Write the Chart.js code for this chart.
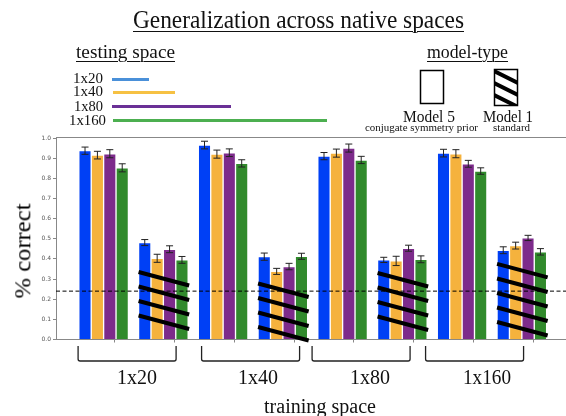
<!DOCTYPE html>
<html>
<head>
<meta charset="utf-8">
<script src="https://cdn.jsdelivr.net/npm/chart.js@4.4.0/dist/chart.umd.min.js"></script>
<style>
body { margin: 0; background: #fff; }
#wrap { position: relative; width: 566px; height: 416px; overflow: hidden; }
.t { position: absolute; white-space: nowrap; line-height: 1; font-family: "Liberation Serif", serif; color: #111; transform-origin: 0 0; }
.u { text-decoration: underline; text-decoration-thickness: 1px; text-underline-offset: 3px; }
.ln { position: absolute; height: 3px; }
</style>
</head>
<body>
<div id="wrap"><canvas id="c" width="566" height="416"></canvas></div>
<script>
// categories
const trainingSpaces = ['1x20', '1x40', '1x80', '1x160'];
const testingSpaces = ['1x20', '1x40', '1x80', '1x160'];
const modelTypes = ['Model 5', 'Model 1'];
const modelNotes = ['conjugate symmetry prior', 'standard'];

// % correct, one value per group: [1x20 M5, 1x20 M1, 1x40 M5, 1x40 M1, 1x80 M5, 1x80 M1, 1x160 M5, 1x160 M1]
const test1x20  = [0.937, 0.481, 0.965, 0.411, 0.910, 0.395, 0.925, 0.443];
const test1x40  = [0.915, 0.403, 0.920, 0.338, 0.925, 0.390, 0.922, 0.466];
const test1x80  = [0.922, 0.448, 0.927, 0.362, 0.950, 0.453, 0.872, 0.504];
const test1x160 = [0.852, 0.395, 0.874, 0.413, 0.891, 0.398, 0.836, 0.435];

// error bar half-heights
const err1x20  = [0.018, 0.015, 0.019, 0.018, 0.018, 0.013, 0.019, 0.017];
const err1x40  = [0.019, 0.020, 0.020, 0.015, 0.020, 0.023, 0.020, 0.017];
const err1x80  = [0.020, 0.017, 0.019, 0.016, 0.020, 0.015, 0.017, 0.013];
const err1x160 = [0.020, 0.017, 0.018, 0.015, 0.018, 0.017, 0.016, 0.016];

const chanceLevel = 0.24;
const yTickLabels = ['0.0', '0.1', '0.2', '0.3', '0.4', '0.5', '0.6', '0.7', '0.8', '0.9', '1.0'];

const barColors = ['#0040f5', '#f5b23d', '#7d2b8b', '#318a2c'];
const legendColors = ['#4a90d9', '#f6c143', '#6a3096', '#4caf50'];

const series = [test1x20, test1x40, test1x80, test1x160];
const errors = [err1x20, err1x40, err1x80, err1x160];
const groups = [];
trainingSpaces.forEach(() => modelTypes.forEach(() => groups.push(groups.length)));

const barW = 12.4;
const tickShift = 0.31;   // matplotlib ticks sit under the first bar of a group

const extras = {
  id: 'extras',
  afterDatasetsDraw(chart) {
    const ctx = chart.ctx;
    const y = chart.scales.y;
    const area = chart.chartArea;
    const metas = chart.data.datasets.map((d, i) => chart.getDatasetMeta(i));
    ctx.save();

    // hatching over "Model 1" groups
    ctx.strokeStyle = '#000';
    ctx.lineWidth = 4;
    groups.forEach(g => {
      if (g % 2 === 0) return;
      const first = metas[0].data[g], last = metas[metas.length - 1].data[g];
      const left = first.x - first.width / 2;
      const right = last.x + last.width / 2 + 1;
      const low = Math.min(...series.map(s => s[g]));
      ctx.beginPath();
      for (let lvl = low - 0.06; lvl > 0.05; lvl -= 0.072) {
        const py = y.getPixelForValue(lvl);
        ctx.moveTo(left, py);
        ctx.lineTo(right, py + 13.5);
      }
      ctx.stroke();
    });

    // chance line
    ctx.lineWidth = 1;
    ctx.setLineDash([4, 2.5]);
    const cy = y.getPixelForValue(chanceLevel);
    ctx.beginPath();
    ctx.moveTo(area.left, cy);
    ctx.lineTo(area.right, cy);
    ctx.stroke();
    ctx.setLineDash([]);

    // error bars
    ctx.strokeStyle = '#222';
    ctx.lineWidth = 1;
    metas.forEach((m, k) => {
      m.data.forEach((bar, g) => {
        const v = series[k][g], e = errors[k][g];
        const y1 = y.getPixelForValue(v - e), y2 = y.getPixelForValue(v + e);
        ctx.beginPath();
        ctx.moveTo(bar.x, y1); ctx.lineTo(bar.x, y2);
        ctx.moveTo(bar.x - 3.5, y1); ctx.lineTo(bar.x + 3.5, y1);
        ctx.moveTo(bar.x - 3.5, y2); ctx.lineTo(bar.x + 3.5, y2);
        ctx.stroke();
      });
    });

    // top spine
    ctx.strokeStyle = '#888';
    ctx.beginPath();
    ctx.moveTo(area.left, area.top - 0.5);
    ctx.lineTo(area.right, area.top - 0.5);
    ctx.stroke();

    // brackets under each training space
    const x = chart.scales.x;
    const shift = [3, 7, -2, -8];
    ctx.strokeStyle = '#222';
    ctx.lineWidth = 1.3;
    trainingSpaces.forEach((t, i) => {
      const l = x.getPixelForValue(2 * i - tickShift) - 7 + shift[i] - 3;
      const r = l + 98;
      ctx.beginPath();
      ctx.moveTo(l, 346);
      ctx.lineTo(l, 359);
      ctx.quadraticCurveTo(l, 361, l + 2, 361);
      ctx.lineTo(r - 2, 361);
      ctx.quadraticCurveTo(r, 361, r, 359);
      ctx.lineTo(r, 346);
      ctx.stroke();
    });
    ctx.restore();
  }
};

new Chart(document.getElementById('c'), {
  type: 'bar',
  data: {
    datasets: testingSpaces.map((name, k) => ({
      label: name,
      data: series[k].map((v, g) => ({ x: g, y: v })),
      backgroundColor: barColors[k],
      borderColor: 'rgba(255,255,255,0.5)',
      borderWidth: 1,
      borderSkipped: 'start',
      barThickness: barW
    }))
  },
  options: {
    responsive: false,
    animation: false,
    layout: { padding: { top: 138, right: 0, left: 0, bottom: 0 } },
    plugins: { legend: { display: false }, tooltip: { enabled: false } },
    scales: {
      x: {
        type: 'linear',
        min: -0.797,
        max: 7.739,
        offset: false,
        afterBuildTicks: s => { s.ticks = [0, 1, 2, 3, 4, 5, 6, 7, 8].map(v => ({ value: v - tickShift })); },
        afterFit: s => { s.height = 76.5; },
        ticks: { display: false },
        grid: { display: true, drawOnChartArea: false, drawTicks: true, tickLength: 3, color: '#888' },
        border: { display: true, color: '#888' }
      },
      y: {
        min: 0,
        max: 1,
        afterFit: s => { s.width = 56; },
        ticks: {
          stepSize: 0.1,
          padding: 2,
          color: '#555',
          font: { size: 6, family: 'DejaVu Sans' },
          callback: (v, i) => yTickLabels[i]
        },
        grid: { display: true, drawOnChartArea: false, drawTicks: true, tickLength: 3, color: '#888' },
        border: { display: true, color: '#888' }
      }
    }
  },
  plugins: [extras]
});

// text and legend overlay
const wrap = document.getElementById('wrap');
function text(s, x, w, base, fs, cls, family) {
  const el = document.createElement('div');
  el.className = 't ' + (cls || '');
  el.textContent = s;
  el.style.fontSize = fs + 'px';
  if (family) el.style.fontFamily = family;
  el.style.left = x + 'px';
  el.style.top = (base - 0.8375 * fs) + 'px';
  wrap.appendChild(el);
  const real = el.getBoundingClientRect().width;
  el.style.transform = 'scaleX(' + (w / real) + ')';
  return el;
}

text('Generalization across native spaces', 133, 331, 28, 25, 'u');
text('testing space', 76, 99, 57.5, 19, 'u');
text('model-type', 427, 81, 57.5, 19, 'u');

const legendText = [[73, 30, 83.3], [73, 30, 96.7], [74, 29, 111.7], [69, 37, 125.7]];
const legendLines = [[112, 149, 79], [113, 175, 92], [112, 231, 106], [113, 327, 120]];
testingSpaces.forEach((name, k) => {
  const [x, w, b] = legendText[k];
  text(name, x, w, b, 15);
  const [l, r, yy] = legendLines[k];
  const ln = document.createElement('div');
  ln.className = 'ln';
  ln.style.left = l + 'px';
  ln.style.width = (r - l) + 'px';
  ln.style.top = (yy - 1.5) + 'px';
  ln.style.background = legendColors[k];
  wrap.appendChild(ln);
});

text(modelTypes[0], 403, 52, 122.5, 17);
text(modelNotes[0], 365, 113, 131.5, 10.5);
text(modelTypes[1], 483, 50, 122.5, 17);
text(modelNotes[1], 493, 37, 131.5, 10.5);

const svgNS = 'http://www.w3.org/2000/svg';
const svg = document.createElementNS(svgNS, 'svg');
svg.setAttribute('width', 566);
svg.setAttribute('height', 140);
svg.style.position = 'absolute';
svg.style.left = '0px';
svg.style.top = '0px';
svg.innerHTML =
  '<defs><clipPath id="hb"><rect x="494" y="69" width="23" height="36"/></clipPath></defs>' +
  '<rect x="420.5" y="70.5" width="23" height="33" fill="#fff" stroke="#000" stroke-width="1.5"/>' +
  '<g clip-path="url(#hb)" stroke="#000" stroke-width="4">' +
  '<line x1="490" y1="69" x2="520" y2="84"/>' +
  '<line x1="490" y1="81" x2="520" y2="96"/>' +
  '<line x1="490" y1="93" x2="520" y2="108"/>' +
  '</g>' +
  '<rect x="494.5" y="69.5" width="23" height="36" fill="none" stroke="#000" stroke-width="1.5"/>';
wrap.appendChild(svg);

const groupLabelX = [[117, 40], [238, 40], [350, 40], [463, 48]];
trainingSpaces.forEach((name, i) => text(name, groupLabelX[i][0], groupLabelX[i][1], 385, 21));
text('training space', 264, 112, 413, 20);

// rotated y-axis title
const yt = document.createElement('div');
yt.className = 't';
yt.textContent = '% correct';
yt.style.fontSize = '24px';
yt.style.color = '#000';
wrap.appendChild(yt);
const yw = yt.getBoundingClientRect().width;
yt.style.left = (22 - yw / 2) + 'px';
yt.style.top = (250.5 - 12) + 'px';
yt.style.transformOrigin = '50% 50%';
yt.style.transform = 'rotate(-90deg) scaleX(' + (95 / yw) + ')';
</script>
</body>
</html>
